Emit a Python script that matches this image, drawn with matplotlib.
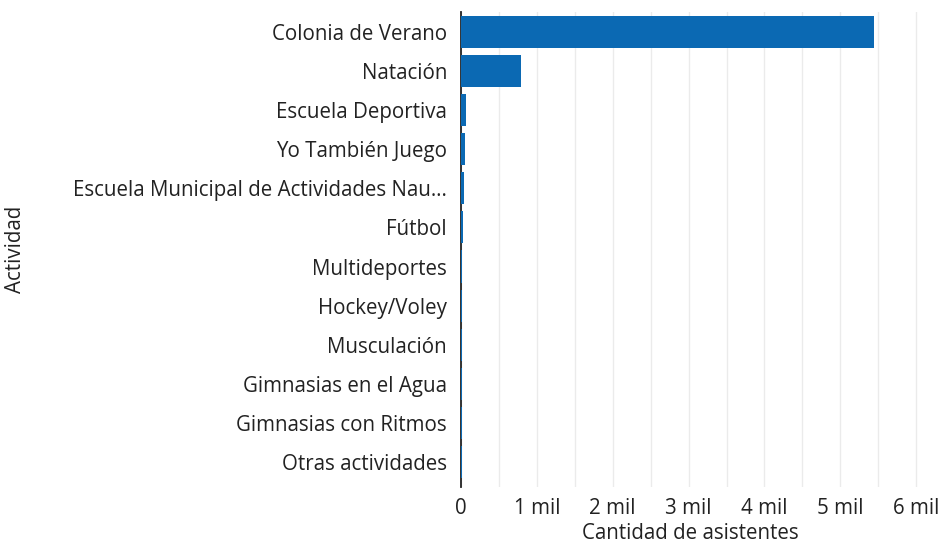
import numpy as np
import matplotlib
matplotlib.use('Agg')
import matplotlib.pyplot as plt
from matplotlib.ticker import FuncFormatter, MultipleLocator

plt.rcParams['font.family'] = ['Open Sans', 'DejaVu Sans']

# Datos
actividades = ['Colonia de Verano', 'Natación', 'Escuela Deportiva', 'Yo También Juego',
               'Escuela Municipal de Actividades Nau…', 'Fútbol', 'Multideportes',
               'Hockey/Voley', 'Musculación', 'Gimnasias en el Agua',
               'Gimnasias con Ritmos', 'Otras actividades']
asistentes = [5450, 790, 65, 55, 40, 25, 18, 15, 12, 10, 8, 7]

fs = 14.8
fig = plt.figure(figsize=(9.39, 5.44), dpi=100)
left, right, top, bottom = 461, 920, 12, 487
ax = fig.add_axes([left / 939, 1 - bottom / 544, (right - left) / 939, (bottom - top) / 544])

y = np.arange(len(actividades))
ax.barh(y, asistentes, height=0.82, color='#0b69b3', zorder=3)
ax.set_yticks(y)
ax.set_yticklabels(actividades)
ax.set_ylim(len(actividades) - 0.36, -0.51)
ax.set_xlim(0, 6050)

ax.xaxis.set_major_locator(MultipleLocator(1000))
ax.xaxis.set_minor_locator(MultipleLocator(500))
ax.xaxis.set_major_formatter(FuncFormatter(lambda v, p: '0' if v == 0 else f'{int(v / 1000)} mil'))
ax.grid(axis='x', which='both', color='#ebebeb', linewidth=1, zorder=0)
ax.tick_params(axis='both', which='both', length=0, labelsize=fs, colors='#222222')
ax.tick_params(axis='y', pad=10)
ax.tick_params(axis='x', pad=8)

for s in ['top', 'right', 'bottom']:
    ax.spines[s].set_visible(False)
ax.spines['left'].set_color('#222222')
ax.spines['left'].set_linewidth(1.3)
ax.spines['left'].set_zorder(2.5)

ax.set_xlabel('Cantidad de asistentes', fontsize=fs, color='#222222', labelpad=3)
ax.set_ylabel('Actividad', fontsize=fs, color='#222222')
ax.yaxis.set_label_coords((26 - left) / (right - left), 0.5)

fig.savefig('out.png', dpi=100)
